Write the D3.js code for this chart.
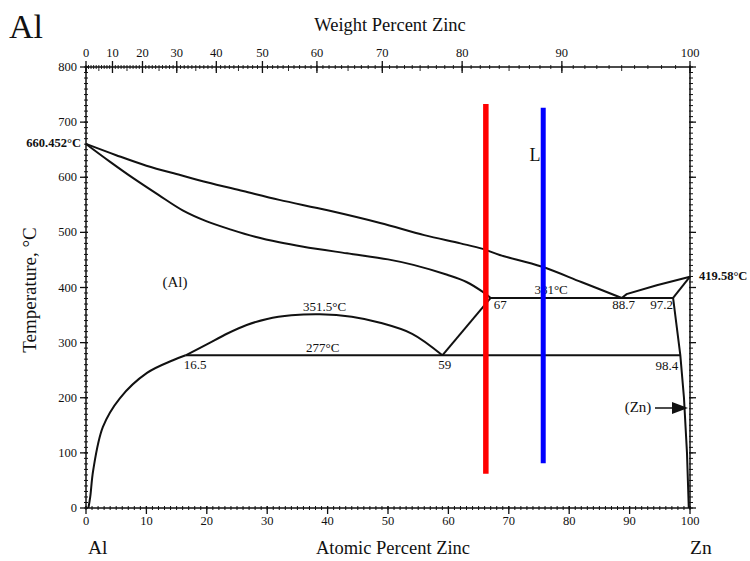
<!DOCTYPE html>
<html>
  <head>
    <title>Al-Zn Phase Diagram</title>
    <script src="https://d3js.org/d3.v7.min.js"></script>
    <style>
      body { margin: 0; background: #fff; }
      svg { font-family: "Liberation Serif", "DejaVu Serif", serif; }
      .tick-label { font-size: 12.5px; fill: #111; }
      .curve { fill: none; stroke: #111; stroke-width: 2px; }
      .note { font-size: 13px; fill: #111; }
      .bold-note { font-size: 12.5px; font-weight: bold; fill: #111; }
      .title { font-size: 18.5px; fill: #111; }
    </style>
  </head>
  <body>
    <svg width="750" height="561"></svg>
    <script>
      // composition in atomic percent Zn, temperature in °C
      const liquidus = [[0, 660.452], [5, 640], [10, 621], [15.6, 604], [20, 591], [26, 575], [32, 559],
        [40, 540], [48.7, 517], [56, 495], [62, 480], [65.7, 470], [68.5, 459], [75.4, 438], [82, 410], [88.7, 381]];
      const liquidusZn = [[88.7, 381], [89.5, 388], [94.5, 404], [100, 419.58]];
      const solidusAl = [[0, 660.452], [4, 628], [8, 597], [12, 568], [16, 540], [20, 520], [24, 505], [28, 492],
        [32, 482], [36, 474], [43.2, 462], [50, 451], [54.2, 441], [59.8, 423], [63, 410], [65.7, 392], [67, 381]];
      const solvusAl = [[0.4, 0], [0.7, 20], [1.2, 69], [2.8, 147], [5.6, 199], [10.1, 245], [14.4, 268], [16.5, 277]];
      const gapDome = [[16.5, 277], [20, 297], [23.5, 317], [26.6, 332], [30, 343], [34, 349.5], [38.7, 351.5],
        [44, 347], [48.7, 336], [54, 316], [59, 277]];
      const solvusAl2 = [[59, 277], [67, 381]];
      const solidusZn = [[97.2, 381], [100, 419.58]];
      const solvusZn = [[97.2, 381], [98.4, 277], [99.0, 200], [99.5, 100], [99.8, 0]];
      const eutectoid = [[16.5, 277], [98.4, 277]];
      const eutectic = [[67, 381], [97.2, 381]];

      const redMarker = [[66.2, 733], [66.2, 62]];
      const blueMarker = [[75.7, 726], [75.7, 81]];

      const tempTicks = d3.range(0, 801, 100);
      const tempMinor = d3.range(0, 801, 10);
      const atTicks = d3.range(0, 101, 10);
      const atMinor = d3.range(0, 101, 1);
      const wtTicks = [0, 10, 20, 30, 40, 50, 60, 70, 80, 90, 100];
      const wtMinor = d3.range(0, 101, 1);

      const massAl = 26.98;
      const massZn = 65.38;
      function wtToAt(w){
        const nZn = w / massZn;
        const nAl = (100 - w) / massAl;
        return 100 * nZn / (nZn + nAl);
      }

      function main(){
        const svg = d3.select("svg");
        const left = 86, right = 690, top = 67, bottom = 508;

        const xScale = d3.scaleLinear().domain([0, 100]).range([left, right]);
        const yScale = d3.scaleLinear().domain([0, 800]).range([bottom, top]);

        // frame
        svg.append("rect")
          .attr("x", left).attr("y", top)
          .attr("width", right - left).attr("height", bottom - top)
          .attr("fill", "none").attr("stroke", "#111").attr("stroke-width", 1.5);

        const ticks = svg.append("g").attr("stroke", "#111");

        // left temperature axis
        ticks.selectAll(".tminL").data(tempMinor).enter().append("line")
          .attr("x1", left - 2).attr("x2", left + 2)
          .attr("y1", d => yScale(d)).attr("y2", d => yScale(d))
          .attr("stroke-width", 1);
        ticks.selectAll(".tmajL").data(tempTicks).enter().append("line")
          .attr("x1", left - 6).attr("x2", left + 2)
          .attr("y1", d => yScale(d)).attr("y2", d => yScale(d))
          .attr("stroke-width", 1.3);
        svg.selectAll(".tlab").data(tempTicks).enter().append("text")
          .attr("class", "tick-label")
          .attr("x", left - 9).attr("y", d => yScale(d) + 4)
          .attr("text-anchor", "end")
          .text(d => d);

        // right temperature ticks
        ticks.selectAll(".tminR").data(tempMinor).enter().append("line")
          .attr("x1", right - 1).attr("x2", right + 3)
          .attr("y1", d => yScale(d)).attr("y2", d => yScale(d))
          .attr("stroke-width", 1);
        ticks.selectAll(".tmajR").data(tempTicks).enter().append("line")
          .attr("x1", right - 1).attr("x2", right + 6)
          .attr("y1", d => yScale(d)).attr("y2", d => yScale(d))
          .attr("stroke-width", 1.3);

        // bottom atomic percent axis
        ticks.selectAll(".aminB").data(atMinor).enter().append("line")
          .attr("x1", d => xScale(d)).attr("x2", d => xScale(d))
          .attr("y1", bottom - 2).attr("y2", bottom + 2)
          .attr("stroke-width", 1);
        ticks.selectAll(".amajB").data(atTicks).enter().append("line")
          .attr("x1", d => xScale(d)).attr("x2", d => xScale(d))
          .attr("y1", bottom - 2).attr("y2", bottom + 6)
          .attr("stroke-width", 1.3);
        svg.selectAll(".alab").data(atTicks).enter().append("text")
          .attr("class", "tick-label")
          .attr("x", d => xScale(d)).attr("y", bottom + 17)
          .attr("text-anchor", "middle")
          .text(d => d);

        // top weight percent axis
        ticks.selectAll(".wmin").data(wtMinor).enter().append("line")
          .attr("x1", d => xScale(wtToAt(d))).attr("x2", d => xScale(wtToAt(d)))
          .attr("y1", top - 2)
          .attr("y2", d => top + (d % 5 === 0 ? 4 : 2))
          .attr("stroke-width", 0.9);
        ticks.selectAll(".wmaj").data(wtTicks).enter().append("line")
          .attr("x1", d => xScale(wtToAt(d))).attr("x2", d => xScale(wtToAt(d)))
          .attr("y1", top - 6).attr("y2", top + 6)
          .attr("stroke-width", 1.3);
        svg.selectAll(".wlab").data(wtTicks).enter().append("text")
          .attr("class", "tick-label")
          .attr("x", d => xScale(wtToAt(d))).attr("y", top - 10)
          .attr("text-anchor", "middle")
          .text(d => d);

        // phase boundaries
        const smooth = d3.line()
          .x(d => xScale(d[0])).y(d => yScale(d[1]))
          .curve(d3.curveCatmullRom.alpha(0.5));
        const straight = d3.line()
          .x(d => xScale(d[0])).y(d => yScale(d[1]));

        const g = svg.append("g");
        [liquidus, solidusAl, solvusAl, gapDome].forEach(pts => {
          g.append("path").attr("class", "curve").attr("d", smooth(pts));
        });
        [liquidusZn, solvusAl2, solidusZn, solvusZn, eutectoid, eutectic].forEach(pts => {
          g.append("path").attr("class", "curve").attr("d", straight(pts));
        });

        // annotations
        const note = (txt, x, y, anchor, cls) => svg.append("text")
          .attr("class", cls || "note")
          .attr("x", x).attr("y", y)
          .attr("text-anchor", anchor || "start")
          .text(txt);

        note("16.5", xScale(16.5) - 2, yScale(277) + 14);
        note("277°C", xScale(39.2), yScale(277) - 3, "middle");
        note("351.5°C", xScale(39.5), yScale(351.5) - 3, "middle");
        note("59", xScale(59) - 4, yScale(277) + 14);
        note("67", xScale(67) + 3, yScale(381) + 11);
        note("381°C", xScale(77), yScale(381) - 4, "middle");
        note("88.7", xScale(88.7) + 2, yScale(381) + 11, "middle");
        note("97.2", xScale(97.2), yScale(381) + 11, "end");
        note("98.4", xScale(98.4) - 2, yScale(277) + 15, "end");
        note("(Al)", 175, 287, "middle").style("font-size", "15px");
        note("L", 535, 161, "middle").style("font-size", "18px");
        note("(Zn)", 638, 412, "middle").style("font-size", "15px");
        note("660.452°C", left - 5, yScale(660.452) + 3, "end", "bold-note");
        note("419.58°C", right + 9, yScale(419.58) + 3, "start", "bold-note");

        // (Zn) arrow
        svg.append("line")
          .attr("x1", 655).attr("x2", 674).attr("y1", 408).attr("y2", 408)
          .attr("stroke", "#111").attr("stroke-width", 1.5);
        svg.append("path")
          .attr("d", "M672,402 L688,408 L672,414 Z")
          .attr("fill", "#111");

        // marker lines
        svg.append("path").attr("d", straight(redMarker))
          .attr("stroke", "#ff0000").attr("stroke-width", 5.5).attr("fill", "none");
        svg.append("path").attr("d", straight(blueMarker))
          .attr("stroke", "#0000ff").attr("stroke-width", 5).attr("fill", "none");

        // titles
        note("Al", 9, 38, "start", "title").style("font-size", "34px");
        note("Weight Percent Zinc", 390, 31, "middle", "title");
        note("Atomic Percent Zinc", 393, 554, "middle", "title");
        note("Al", 88, 554, "start", "title").style("font-size", "19.5px");
        note("Zn", 690, 554, "start", "title").style("font-size", "19.5px");
        svg.append("text")
          .attr("class", "title")
          .attr("transform", "translate(36, 290) rotate(-90)")
          .attr("text-anchor", "middle")
          .style("font-size", "19px")
          .text("Temperature, °C");
      }
      main();
    </script>
  </body>
</html>
